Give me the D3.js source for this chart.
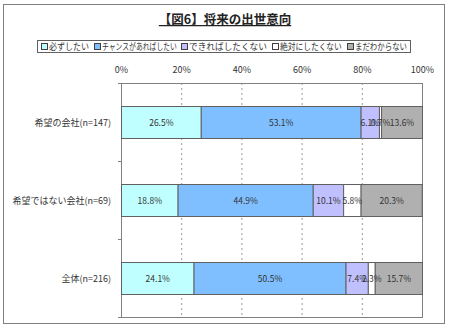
<!DOCTYPE html>
<html><head><meta charset="utf-8">
<script src="https://cdn.jsdelivr.net/npm/d3@7"></script>
<style>body{margin:0;background:#fff;} svg{display:block;font-family:"Noto Sans CJK JP",sans-serif;}</style>
</head><body>
<script>
const categories = ["希望の会社(n=147)", "希望ではない会社(n=69)", "全体(n=216)"];
const seriesNames = ["必ずしたい", "チャンスがあればしたい", "できればしたくない", "絶対にしたくない", "まだわからない"];
const s1 = [26.5, 18.8, 24.1];
const s2 = [53.1, 44.9, 50.5];
const s3 = [6.1, 10.1, 7.4];
const s4 = [0.7, 5.8, 2.3];
const s5 = [13.6, 20.3, 15.7];
const tickValues = [0, 20, 40, 60, 80, 100];
const colors = ["#C0FFFF", "#80BFFF", "#C0C0FF", "#FFFFFF", "#B0B0B0"];

(function () {
const series = [s1, s2, s3, s4, s5];
const W = 450, H = 329;
const svg = d3.select("body").append("svg").attr("width", W).attr("height", H);

svg.append("rect").attr("x", 3.5).attr("y", 4.5).attr("width", 441).attr("height", 319)
  .attr("fill", "#fff").attr("stroke", "#808080");

svg.append("text").attr("x", 225).attr("y", 24).attr("text-anchor", "middle")
  .attr("font-size", 12.5).attr("font-weight", "bold").attr("fill", "#222")
  .attr("text-decoration", "underline").text("【図6】将来の出世意向");

// legend
const legendX = [41, 94, 181, 272, 347];
const legendW = [40, 75, 78, 62, 52];
svg.append("rect").attr("x", 37.5).attr("y", 40.5).attr("width", 373).attr("height", 12)
  .attr("fill", "#fff").attr("stroke", "#606060");
seriesNames.forEach((n, i) => {
  const g = svg.append("g").attr("transform", `translate(${legendX[i]},0)`);
  g.append("rect").attr("x", 0.5).attr("y", 43.5).attr("width", 6).attr("height", 6)
    .attr("fill", colors[i]).attr("stroke", "#404040");
  const tg = g.append("g").attr("transform", "translate(8,50)");
  const t = tg.append("text").attr("x", 0).attr("y", 0).attr("font-size", 9).attr("fill", "#333").text(n);
  const w = t.node().getComputedTextLength();
  tg.attr("transform", `translate(8,50) scale(${legendW[i] / w},1)`);
});

const pL = 121, pR = 422, pT = 83, pB = 317;
const x = d3.scaleLinear().domain([0, 100]).range([pL, pR]);
const y = d3.scaleBand().domain(categories).range([pT, pB]).paddingInner(0.59).paddingOuter(0.295);

// gridlines
svg.append("g").selectAll("line").data(tickValues.filter(v => v > 0 && v < 100)).join("line")
  .attr("x1", d => x(d) + 0.5).attr("x2", d => x(d) + 0.5).attr("y1", pT).attr("y2", pB)
  .attr("stroke", "#999").attr("stroke-dasharray", "2,3");

svg.append("rect").attr("x", pL + 0.5).attr("y", pT + 0.5).attr("width", pR - pL).attr("height", pB - pT)
  .attr("fill", "none").attr("stroke", "#808080");

// top axis labels
const xAxis = d3.axisTop(x).tickValues(tickValues).tickFormat(d => d + "%").tickSize(0).tickPadding(0);
const ax = svg.append("g").attr("transform", `translate(0,${pT - 10})`).call(xAxis);
ax.select(".domain").remove();
ax.selectAll("text").attr("font-size", 9).attr("fill", "#333").attr("font-family", "Noto Sans CJK JP");

// category ticks at band boundaries
const step = (pB - pT) / categories.length;
svg.append("g").selectAll("line").data(d3.range(categories.length + 1)).join("line")
  .attr("x1", pL - 3).attr("x2", pL).attr("y1", d => pT + d * step + 0.5).attr("y2", d => pT + d * step + 0.5)
  .attr("stroke", "#808080");

// category labels
svg.append("g").selectAll("text").data(categories).join("text")
  .attr("x", 111).attr("y", d => y(d) + y.bandwidth() / 2 + 3.5).attr("text-anchor", "end")
  .attr("font-size", 9).attr("fill", "#333").text(d => d);

// bars
const stackData = categories.map((c, ci) => {
  let acc = 0;
  return series.map((s, si) => { const v0 = acc; acc += s[ci]; return {c, si, v: s[ci], v0, v1: acc}; });
}).flat();

svg.append("g").selectAll("rect").data(stackData).join("rect")
  .attr("x", d => x(d.v0) + 0.5).attr("y", d => y(d.c) + 0.5)
  .attr("width", d => x(d.v1) - x(d.v0)).attr("height", y.bandwidth())
  .attr("fill", d => colors[d.si]).attr("stroke", "#606060");

svg.append("g").selectAll("text").data(stackData).join("text")
  .attr("x", d => (x(d.v0) + x(d.v1)) / 2 + 0.5).attr("y", d => y(d.c) + y.bandwidth() / 2 + 3.5)
  .attr("text-anchor", "middle").attr("font-size", 8.5).attr("fill", "#333")
  .text(d => d.v.toFixed(1) + "%");
})();
</script>
</body></html>
